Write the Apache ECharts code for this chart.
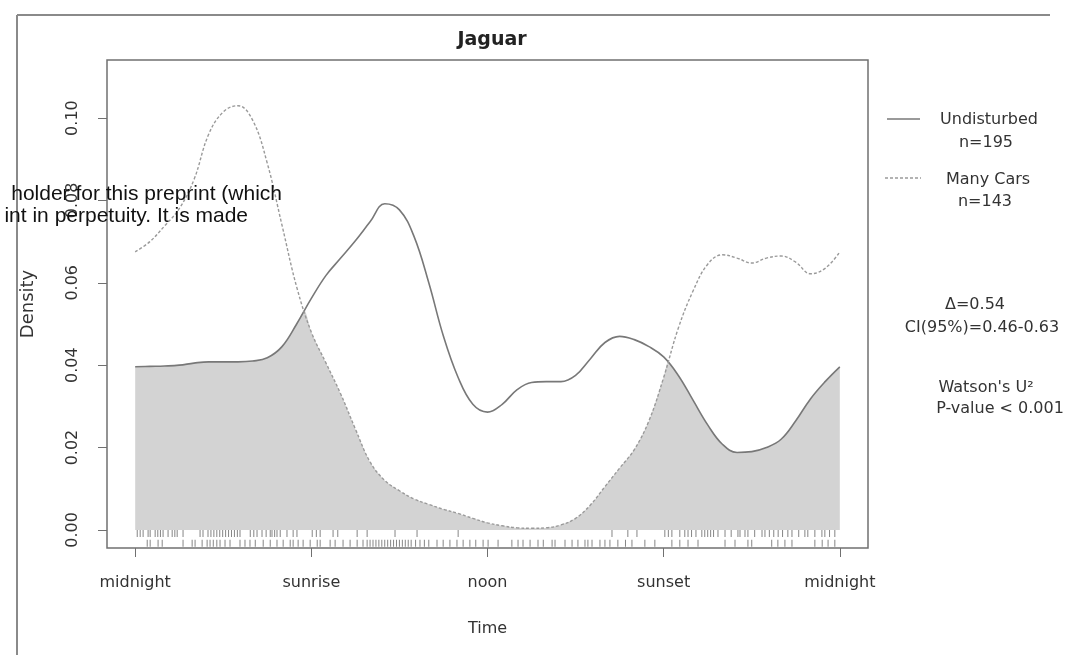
<!DOCTYPE html>
<html><head><meta charset="utf-8">
<script src="https://cdn.jsdelivr.net/npm/echarts@6/dist/echarts.min.js"></script>
<style>html,body{margin:0;padding:0;background:#fff}#c{width:1086px;height:655px}</style>
</head><body><div id="c"></div>
<script>
// ---- data ----
const hours = [0,0.5,1,1.5,2,2.5,3,3.5,4,4.5,5,5.5,6,6.5,7,7.5,8,8.5,9,9.5,10,10.5,11,11.5,12,12.5,13,13.5,14,14.5,15,15.5,16,16.5,17,17.5,18,18.5,19,19.5,20,20.5,21,21.5,22,22.5,23,23.5,24];
const undisturbed = [0.0396,0.0397,0.0398,0.0400,0.0405,0.0408,0.0408,0.0408,0.0410,0.0418,0.0445,0.0500,0.0562,0.0618,0.0660,0.0702,0.0748,0.0792,0.0777,0.0712,0.0600,0.0470,0.0370,0.0305,0.0286,0.0305,0.0340,0.0358,0.0360,0.0360,0.0375,0.0415,0.0455,0.0470,0.0462,0.0445,0.0420,0.0375,0.0315,0.0255,0.0208,0.0188,0.0190,0.0200,0.0220,0.0265,0.0318,0.0360,0.0396];
const manyCars = [0.0675,0.0700,0.0738,0.0780,0.0850,0.0960,0.1015,0.1030,0.0995,0.0890,0.0740,0.0590,0.0480,0.0405,0.0330,0.0245,0.0165,0.0120,0.0095,0.0075,0.0062,0.0050,0.0040,0.0028,0.0017,0.0010,0.0005,0.0004,0.0005,0.0012,0.0028,0.0060,0.0105,0.0150,0.0195,0.0265,0.0370,0.0490,0.0580,0.0645,0.0668,0.0660,0.0648,0.0660,0.0665,0.0650,0.0622,0.0635,0.0675];
const rugManyCars = [0.07,0.17,0.27,0.44,0.51,0.68,0.77,0.86,0.95,1.12,1.26,1.35,1.43,1.63,2.21,2.31,2.48,2.58,2.68,2.78,2.88,2.98,3.08,3.18,3.28,3.38,3.48,3.57,3.92,4.04,4.15,4.32,4.46,4.6,4.66,4.75,4.83,4.94,5.17,5.38,5.51,6.03,6.17,6.3,6.74,6.9,7.56,7.9,8.85,9.6,11.0,16.24,16.78,17.09,18.04,18.16,18.28,18.55,18.72,18.83,18.95,19.1,19.3,19.4,19.5,19.6,19.7,19.85,20.09,20.3,20.53,20.6,20.77,20.87,21.1,21.35,21.45,21.6,21.75,21.9,22.05,22.23,22.37,22.6,22.81,22.91,23.15,23.39,23.49,23.65,23.83];
const rugUndisturbed = [0.41,0.51,0.78,0.92,1.63,1.94,2.04,2.28,2.45,2.55,2.66,2.78,2.89,3.06,3.23,3.57,3.74,3.91,4.09,4.36,4.6,4.83,5.04,5.28,5.38,5.55,5.72,5.96,6.2,6.3,6.64,6.81,7.08,7.32,7.56,7.76,7.9,8.0,8.1,8.2,8.3,8.4,8.5,8.6,8.7,8.8,8.9,9.0,9.1,9.2,9.3,9.4,9.55,9.7,9.85,10.0,10.28,10.49,10.72,10.96,11.17,11.4,11.6,11.85,12.02,12.36,12.83,13.04,13.21,13.45,13.72,13.9,14.2,14.3,14.64,14.88,15.08,15.32,15.42,15.56,15.83,16.0,16.17,16.44,16.7,16.92,17.36,17.7,18.28,18.55,18.83,19.17,20.09,20.43,20.87,21.0,21.68,21.89,22.13,22.37,23.15,23.4,23.6,23.83];
const xTickValues = [0,6,12,18,24];
const xTickLabels = ['midnight','sunrise','noon','sunset','midnight'];
const yTickValues = [0,0.02,0.04,0.06,0.08,0.10];
const legendNames = ['Undisturbed','Many Cars'];
const legendCounts = ['n=195','n=143'];
const statLines = ['\u0394=0.54','CI(95%)=0.46-0.63','Watson\'s U\u00B2','P-value < 0.001'];

// ---- build chart ----
const FONT = 'DejaVu Sans';
const TXT = '#333';
const undData = hours.map((h,i)=>[h, undisturbed[i]]);
const carData = hours.map((h,i)=>[h, manyCars[i]]);
// overlap region = lower of the two curves, with the crossing points added
const ovlData = [];
for (let i = 0; i < hours.length; i++) {
  ovlData.push([hours[i], Math.min(undisturbed[i], manyCars[i])]);
  if (i < hours.length - 1) {
    const d0 = undisturbed[i] - manyCars[i], d1 = undisturbed[i+1] - manyCars[i+1];
    if (d0 * d1 < 0) {
      const t = d0 / (d0 - d1);
      ovlData.push([hours[i] + t * (hours[i+1] - hours[i]), undisturbed[i] + t * (undisturbed[i+1] - undisturbed[i])]);
    }
  }
}

const chart = echarts.init(document.getElementById('c'), null, {renderer:'canvas'});
chart.setOption({
  backgroundColor:'#fff',
  animation:false,
  title:{text:'Jaguar', left:487, top:26, textAlign:'center',
    textStyle:{fontFamily:FONT, fontSize:19, fontWeight:'bold', color:'#222'}},
  grid:{left:107, right:218, top:60, bottom:107, show:true, borderColor:'#707070', borderWidth:1.5, backgroundColor:'#fff'},
  xAxis:{type:'value', min:-0.96, max:24.96,
    name:'Time', nameLocation:'middle', nameGap:73,
    nameTextStyle:{fontFamily:FONT, fontSize:16, color:TXT},
    axisLine:{show:false, onZero:false}, splitLine:{show:false},
    axisTick:{show:true, inside:false, length:9, customValues:xTickValues, lineStyle:{color:'#707070', width:1}},
    axisLabel:{show:true, margin:27, customValues:xTickValues, fontFamily:FONT, fontSize:16, color:TXT,
      formatter:v=>xTickLabels[xTickValues.indexOf(v)]}},
  yAxis:{type:'value', min:-0.0044, max:0.1141,
    name:'Density', nameLocation:'middle', nameGap:70, nameRotate:90,
    nameTextStyle:{fontFamily:FONT, fontSize:18, color:TXT},
    axisLine:{show:false, onZero:false}, splitLine:{show:false},
    axisTick:{show:true, inside:false, length:9, customValues:yTickValues, lineStyle:{color:'#707070', width:1}},
    axisLabel:{show:true, margin:26, rotate:90, customValues:yTickValues, fontFamily:FONT, fontSize:16, color:TXT,
      formatter:v=>v.toFixed(2)}},
  series:[
    {name:'Overlap', type:'line', data:ovlData, smooth:0.25, symbol:'none', z:1,
      lineStyle:{width:0, opacity:0}, areaStyle:{color:'#d3d3d3', opacity:1}},
    {name:legendNames[0], type:'line', data:undData, smooth:0.4, symbol:'none', z:3,
      lineStyle:{color:'#787878', width:1.6, type:'solid'}},
    {name:legendNames[1], type:'line', data:carData, smooth:0.4, symbol:'none', z:3,
      lineStyle:{color:'#9a9a9a', width:1.4, type:[3,2]}},
    {name:'rug '+legendNames[1], type:'scatter', data:rugManyCars.map(t=>[t,-0.00085]), symbol:'rect', symbolSize:[1,7], z:2,
      itemStyle:{color:'#666'}, silent:true},
    {name:'rug '+legendNames[0], type:'scatter', data:rugUndisturbed.map(t=>[t,-0.00325]), symbol:'rect', symbolSize:[1,7], z:2,
      itemStyle:{color:'#666'}, silent:true}
  ],
  graphic:[
    {type:'line', shape:{x1:17,y1:15,x2:17,y2:655}, style:{stroke:'#8a8a8a', lineWidth:2}},
    {type:'line', shape:{x1:17,y1:15,x2:1050,y2:15}, style:{stroke:'#8a8a8a', lineWidth:2}},
    {type:'line', shape:{x1:887,y1:119,x2:920,y2:119}, style:{stroke:'#787878', lineWidth:1.6}},
    {type:'line', shape:{x1:885,y1:178,x2:921,y2:178}, style:{stroke:'#9a9a9a', lineWidth:1.4, lineDash:[3,2]}},
    {type:'text', x:989, y:120, style:{text:legendNames[0], font:'16px "DejaVu Sans"', fill:TXT, textAlign:'center', textVerticalAlign:'middle'}},
    {type:'text', x:986, y:143, style:{text:legendCounts[0], font:'16px "DejaVu Sans"', fill:TXT, textAlign:'center', textVerticalAlign:'middle'}},
    {type:'text', x:988, y:180, style:{text:legendNames[1], font:'16px "DejaVu Sans"', fill:TXT, textAlign:'center', textVerticalAlign:'middle'}},
    {type:'text', x:985, y:202, style:{text:legendCounts[1], font:'16px "DejaVu Sans"', fill:TXT, textAlign:'center', textVerticalAlign:'middle'}},
    {type:'text', x:975, y:305, style:{text:statLines[0], font:'16px "DejaVu Sans"', fill:TXT, textAlign:'center', textVerticalAlign:'middle'}},
    {type:'text', x:982, y:328, style:{text:statLines[1], font:'16px "DejaVu Sans"', fill:TXT, textAlign:'center', textVerticalAlign:'middle'}},
    {type:'text', x:986, y:388, style:{text:statLines[2], font:'16px "DejaVu Sans"', fill:TXT, textAlign:'center', textVerticalAlign:'middle'}},
    {type:'text', x:1000, y:409, style:{text:statLines[3], font:'16px "DejaVu Sans"', fill:TXT, textAlign:'center', textVerticalAlign:'middle'}},
    {type:'text', x:282, y:194, z:100, style:{text:'holder for this preprint (which', font:'21px "Liberation Sans"', fill:'#111', textAlign:'right', textVerticalAlign:'middle'}},
    {type:'text', x:248, y:216, z:100, style:{text:'int in perpetuity. It is made', font:'21px "Liberation Sans"', fill:'#111', textAlign:'right', textVerticalAlign:'middle'}}
  ]
});
</script></body></html>
